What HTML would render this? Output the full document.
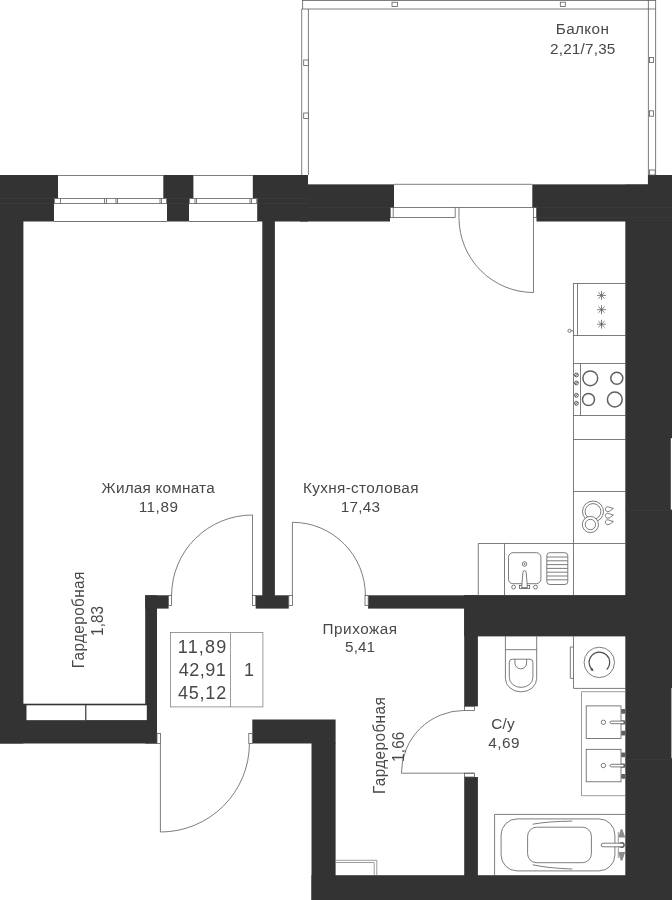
<!DOCTYPE html>
<html lang="ru">
<head>
<meta charset="utf-8">
<title>План квартиры</title>
<style>
html,body{margin:0;padding:0;background:#fff;}
body{width:672px;height:900px;overflow:hidden;}
svg{display:block;}
.w{fill:#333;}
.l{fill:none;stroke:#585858;stroke-width:0.78;}
.lw{fill:#fff;stroke:#585858;stroke-width:0.78;}
.lg{fill:none;stroke:#808080;stroke-width:0.78;}
.la{fill:none;stroke:#4a4a4a;stroke-width:1.1;}
.lk{fill:none;stroke:#444;stroke-width:0.9;}
.lt{fill:none;stroke:#606060;stroke-width:1.5;}
.t{font-family:"Liberation Sans",Arial,sans-serif;fill:#484848;opacity:0.999;}
</style>
</head>
<body>
<svg width="672" height="900" viewBox="0 0 672 900">
<rect width="672" height="900" fill="#fff"/>

<!-- ===== WALLS ===== -->
<g class="w">
<!-- top wall -->
<rect x="0" y="175" width="308" height="46.5"/>
<rect x="300" y="184.2" width="94" height="23.3"/>
<rect x="300" y="207" width="90" height="14.5"/>
<!-- left wall -->
<rect x="0" y="175" width="23.4" height="568.5"/>
<!-- bottom-left wall -->
<rect x="0" y="720" width="157" height="23.5"/>
<rect x="23" y="703.7" width="124" height="17"/>
<!-- room / hall wall -->
<rect x="145.2" y="595.3" width="11.8" height="148.2"/>
<rect x="145.2" y="595.3" width="23.4" height="13.3"/>
<!-- inner wall -->
<rect x="262.3" y="221" width="12.6" height="375"/>
<rect x="255.7" y="595.3" width="33.1" height="13.3"/>
<!-- horizontal wall kitchen / bath -->
<rect x="368.1" y="595.3" width="304" height="13.3"/>
<rect x="464.2" y="595.3" width="208" height="41.1"/>
<!-- bathroom left wall -->
<rect x="464.2" y="595.3" width="13.7" height="111.1"/>
<rect x="464.2" y="777" width="13.7" height="123"/>
<!-- right wall -->
<rect x="625.3" y="184.2" width="46.7" height="716"/>
<rect x="647.7" y="175" width="24.3" height="10"/>
<rect x="532.3" y="184.2" width="140" height="23.5"/>
<rect x="536.5" y="207" width="136" height="14.5"/>
<!-- bottom wall -->
<rect x="311.5" y="875.2" width="360.5" height="24.8"/>
<!-- entry wall -->
<rect x="252.3" y="719.5" width="83.3" height="24"/>
<rect x="311.5" y="743" width="24.1" height="157"/>
</g>

<!-- faint seams inside walls -->
<g stroke="#393939" stroke-width="1" fill="none">
<path d="M0 198.5H54M167 198.5H189M257 198.5H308M0 203.5H54M167 203.5H189M257 203.5H308"/>
<path d="M308 207.5H390M536.5 207.5H672M536.5 217.5H672"/>
<path d="M625.5 510.5H672M625.5 759.5H672"/>
</g>

<!-- ===== WINDOWS ===== -->
<g>
<!-- window 1 -->
<rect x="58" y="175" width="105.3" height="24" fill="#fff"/>
<rect x="54" y="198.3" width="113" height="23.3" fill="#fff"/>
<path class="l" d="M58 175.5H163.3M54 198.5H167M54 203.5H167M54 221.5H167"/>
<path class="l" d="M54.5 198.5V203.5M60.5 198.5V203.5M104.5 198.5V203.5M106.5 198.5V203.5M116 198.5V203.5M117.5 198.5V203.5M160 198.5V203.5M161.5 198.5V203.5M166.5 198.5V203.5"/>
<!-- window 2 -->
<rect x="193.4" y="175" width="59.4" height="24" fill="#fff"/>
<rect x="189" y="198.3" width="68.2" height="23.3" fill="#fff"/>
<path class="l" d="M193.4 175.5H252.8M189 198.5H257.2M189 203.5H257.2M189 221.5H257.2"/>
<path class="l" d="M189.5 198.5V203.5M195 198.5V203.5M196.5 198.5V203.5M250 198.5V203.5M251.5 198.5V203.5M256.7 198.5V203.5"/>
</g>

<!-- ===== BALCONY ===== -->
<g>
<rect x="301.5" y="0" width="7" height="175" fill="#fff"/>
<rect x="308" y="175" width="339.7" height="9.2" fill="#fff"/>
<path class="l" d="M302.5 0.5H655.6M301.7 9H655.6M302.6 0V9"/>
<path class="l" d="M301.7 9V175M308.4 9V175M648.4 0V175M655.6 0V175"/>

<rect class="lw" x="303.7" y="60" width="4.6" height="5.5"/>
<rect class="lw" x="303.7" y="113" width="4.6" height="5.5"/>
<rect class="lw" x="392" y="2.2" width="5.5" height="4.4"/>
<rect class="lw" x="560.3" y="2.2" width="5" height="4.4"/>
<rect class="lw" x="649.6" y="57.5" width="4" height="5"/>
<rect class="lw" x="649.6" y="110.8" width="4" height="5.4"/>
<rect class="lw" x="649.6" y="170" width="5.6" height="5"/>
</g>

<!-- ===== BALCONY DOOR ===== -->
<g>
<path class="l" d="M394 184.3H532.3M390 207.5H536.5M390 217.5H455.2"/>
<path class="l" d="M390.5 207.5V217.5M393.2 207.5V217.5M455.2 207.5V217.5M459 207.5V217.5"/>
<path class="l" d="M533.5 207.5V292.5M536.5 207.5V217.5H533.5"/>
<path class="l" d="M533.5 292.5A74.5 74.7 0 0 1 459 217.8"/>
</g>

<!-- ===== INTERIOR DOORS ===== -->
<g>
<!-- living room door -->
<rect class="lw" x="168.6" y="595.6" width="3" height="9.8"/>
<rect class="lw" x="252.5" y="595.6" width="3.2" height="9.8"/>
<path class="l" d="M252.5 595.5V515"/>
<path class="l" d="M252.5 515A80.9 80.5 0 0 0 171.6 595.5"/>
<!-- kitchen door -->
<rect class="lw" x="288.8" y="595.6" width="3.6" height="9.8"/>
<rect class="lw" x="365" y="595.6" width="3.2" height="9.8"/>
<path class="l" d="M292.4 595.5V522.3"/>
<path class="l" d="M292.4 522.3A73 73.2 0 0 1 365.4 595.5"/>
<!-- entry door -->
<rect class="lw" x="157" y="733.5" width="3.4" height="10"/>
<rect class="lw" x="248.8" y="733.5" width="3.5" height="10"/>
<path class="l" d="M160.4 743.5V832"/>
<path class="l" d="M160.4 832A89 88.5 0 0 0 249.4 743.5"/>
<!-- bathroom door -->
<rect class="lw" x="464.4" y="706.4" width="10" height="4"/>
<rect class="lw" x="464.4" y="773.2" width="10" height="3.8"/>
<path class="l" d="M474.4 773.2H401.4"/>
<path class="l" d="M401.4 773.2A63 62.8 0 0 1 464.4 710.4"/>
</g>

<!-- ===== KITCHEN ===== -->
<g>
<!-- counter outline -->
<path class="l" d="M573.5 283V543.5M478.3 595.3V543.5H625.5M504.5 543.5V595.3M573.5 543.5V595.3"/>
<path class="l" d="M573.5 283.5H625.5M573.5 335.5H625.5M577.5 283.5V335.5M573.5 363.5H625.5M573.5 415.5H625.5M580.5 363.5V415.5M573.5 439.5H625.5M573.5 491.5H625.5"/>
<!-- fridge -->
<path class="l" transform="translate(0 0.4)" d="M597.10 295.00L605.90 295.00M598.39 291.89L604.61 298.11M601.50 290.60L601.50 299.40M604.61 291.89L598.39 298.11M597.10 309.30L605.90 309.30M598.39 306.19L604.61 312.41M601.50 304.90L601.50 313.70M604.61 306.19L598.39 312.41M597.10 323.80L605.90 323.80M598.39 320.69L604.61 326.91M601.50 319.40L601.50 328.20M604.61 320.69L598.39 326.91"/>
<circle class="l" cx="569.5" cy="330.8" r="1.6"/>
<path class="l" d="M571.1 330.8H573.5"/>
<!-- hob -->
<circle class="lt" cx="590.3" cy="378.3" r="7.4"/>
<circle class="lt" cx="616.8" cy="378.3" r="6"/>
<circle class="lt" cx="588.5" cy="399.5" r="6"/>
<circle class="lt" cx="614.8" cy="399.5" r="7.4"/>
<circle class="lk" cx="576.4" cy="375" r="1.9"/><path class="lk" d="M575.0 376.2L577.8 373.8"/>
<circle class="lk" cx="576.4" cy="383" r="1.9"/><path class="lk" d="M575.0 384.2L577.8 381.8"/>
<circle class="lk" cx="576.4" cy="395.3" r="1.9"/><path class="lk" d="M575.0 396.5L577.8 394.1"/>
<circle class="lk" cx="576.4" cy="403.3" r="1.9"/><path class="lk" d="M575.0 404.5L577.8 402.1"/>
<!-- dishwasher -->
<circle class="l" cx="593" cy="511.5" r="10.5"/>
<circle class="l" cx="593" cy="511.5" r="7.9"/>
<circle class="lw" cx="590.4" cy="524.5" r="8.1"/>
<circle class="l" cx="590.4" cy="524.5" r="5.2"/>
<path class="l" d="M613.4 508.4C610.8 508.0 608.8 506.8 607.6 506.8C606.0 506.8 605.4 508.0 605.4 509.2C605.4 510.6 606.4 511.7 607.9 511.7C609.5 511.7 611.6 509.8 613.4 508.4Z"/>
<path class="l" d="M613.4 514.9C610.8 514.5 608.8 513.3 607.6 513.3C606.0 513.3 605.4 514.5 605.4 515.7C605.4 517.1 606.4 518.2 607.9 518.2C609.5 518.2 611.6 516.3 613.4 514.9Z"/>
<path class="l" d="M613.4 521.4C610.8 521.0 608.8 519.8 607.6 519.8C606.0 519.8 605.4 521.0 605.4 522.2C605.4 523.6 606.4 524.7 607.9 524.7C609.5 524.7 611.6 522.8 613.4 521.4Z"/>
<!-- sink -->
<rect class="l" x="508.5" y="552.7" width="32.4" height="31" rx="4.5"/>
<circle class="l" cx="524.5" cy="564" r="2.3"/>
<circle cx="524.5" cy="564" r="0.8" fill="#4a4a4a"/>
<circle class="l" cx="513.6" cy="587.1" r="1.9"/>
<circle class="l" cx="535.5" cy="587.1" r="1.9"/>
<rect class="lw" x="519.5" y="585.6" width="10.2" height="3"/>
<path class="lw" d="M521.7 587.6L522.9 572.4Q523 570.6 524.55 570.6Q526.1 570.6 526.2 572.4L527.4 587.6Z"/>
<rect class="l" x="546.8" y="552.7" width="21" height="31.8" rx="3"/>
<path class="l" d="M547 557H567.6M547 560.8H567.6M547 564.6H567.6M547 568.4H567.6M547 572.2H567.6M547 576H567.6M547 579.8H567.6"/>
</g>

<!-- ===== BATHROOM ===== -->
<g>
<!-- toilet -->
<path class="l" d="M505.4 636.4V649.7H536.7V636.4"/>
<path class="l" d="M505.4 649.7V678.4A15.65 13.5 0 0 0 536.7 678.4V649.7"/>
<path class="l" d="M512.3 659.2H529.9Q532.9 659.2 532.9 662.2V677.5A11.8 9.9 0 0 1 509.3 677.5V662.2Q509.3 659.2 512.3 659.2Z"/>
<path class="l" d="M514.9 659.2V663A5.85 5.85 0 0 0 526.6 663V659.2"/>
<!-- washing machine -->
<path class="l" d="M573.5 636.4V688.4H625.5"/>
<path class="l" d="M573.5 647H570.3V678.4H573.5"/>
<circle class="l" cx="599.3" cy="662.4" r="15.2"/>
<path class="la" d="M606.68 669.68A10.3 10.3 0 1 0 592.51 670.05"/>
<path d="M593.70 671.13L590.17 669.96L592.17 667.74Z" fill="#4a4a4a"/>
<!-- sink counter -->
<path class="lg" d="M625.5 691.7H581.5V795.7H625.5"/>
<rect class="l" x="586.2" y="705.9" width="34.8" height="32.5"/>
<rect class="l" x="586.2" y="749.3" width="34.8" height="32.5"/>
<circle class="l" cx="603.4" cy="722.3" r="2.2"/>
<circle class="l" cx="603.4" cy="765.5" r="2.2"/>
<g fill="#606060">
<rect x="621.2" y="709" width="4.3" height="4.7" rx="1"/><rect x="621.2" y="730.7" width="4.3" height="4.7" rx="1"/>
<rect x="621.2" y="752.5" width="4.3" height="4.7" rx="1"/><rect x="621.2" y="774" width="4.3" height="4.7" rx="1"/>
<rect x="620.5" y="720.3" width="5" height="4.2" rx="1.5"/><rect x="620.5" y="763.5" width="5" height="4.2" rx="1.5"/>
</g>
<rect class="lw" x="610" y="721.1" width="14" height="2.6" rx="1.3"/>
<rect class="lw" x="610" y="764.3" width="14" height="2.6" rx="1.3"/>
<!-- bathtub -->
<path class="l" d="M494.6 875.2V814.4H625.5"/>
<rect class="l" x="501.1" y="818.9" width="113.8" height="52" rx="16" ry="16"/>
<rect class="l" x="527.6" y="827.2" width="63.8" height="35.5" rx="9" ry="9"/>
<path class="l" d="M532.7 824.2Q548 821.4 572.3 821.1M532.7 864.8Q548 868.2 572.3 869"/>
<path class="lg" d="M618.3 832V858"/>
<g fill="#8c8c8c">
<path d="M618.3 837.6L620.6 829.3L622.3 829.3L625.3 837.6Z"/>
<path d="M618.3 852L620.6 860.6L622.3 860.6L625.3 852Z"/>
</g>
<circle cx="621.8" cy="845" r="3" fill="#5a5a5a"/>
<rect class="lw" x="601.2" y="843.2" width="22.6" height="3.6" rx="1.8"/>
</g>

<!-- ===== WARDROBES ===== -->
<g>
<rect x="26.5" y="705.3" width="58.7" height="14.8" fill="#fff"/>
<rect x="86.3" y="705.3" width="60.5" height="14.8" fill="#fff"/>
<path class="l" d="M26.5 720.6H85.7V705.3"/>
<path class="lg" d="M335.6 860.3H376.8V875.2M335.6 862.5H374.2V875.2"/>
</g>

<!-- right edge slivers -->
<rect x="670.8" y="438.2" width="1.2" height="71.4" fill="#fff"/>
<rect x="671" y="688" width="1" height="70.2" fill="#a8a8a8"/>

<!-- ===== LABEL BOX ===== -->
<g>
<rect class="lg" x="170.5" y="632.5" width="92.4" height="74.4"/>
<path class="lg" d="M230.5 632.5V707"/>
</g>


<!-- ===== TEXT ===== -->
<g class="t">
<text x="101.59" y="493.00" style="font-size:15.3px;letter-spacing:0.216px">Жилая комната</text>
<text x="138.68" y="511.70" style="font-size:15.3px;letter-spacing:0.527px">11,89</text>
<text x="303.08" y="493.00" style="font-size:15.3px;letter-spacing:0.332px">Кухня-столовая</text>
<text x="340.68" y="511.70" style="font-size:15.3px;letter-spacing:0.247px">17,43</text>
<text x="322.58" y="633.80" style="font-size:15.3px;letter-spacing:0.522px">Прихожая</text>
<text x="345.09" y="652.40" style="font-size:15.3px;letter-spacing:0.047px">5,41</text>
<text x="491.24" y="728.70" style="font-size:15.3px;letter-spacing:0.208px">С/у</text>
<text x="488.29" y="748.00" style="font-size:15.3px;letter-spacing:0.479px">4,69</text>
<text x="555.78" y="34.30" style="font-size:15.3px;letter-spacing:0.358px">Балкон</text>
<text x="549.99" y="53.80" style="font-size:15.3px;letter-spacing:0.197px">2,21/7,35</text>
<text x="177.86" y="652.70" style="font-size:18.0px;letter-spacing:1.150px">11,89</text>
<text x="178.74" y="675.90" style="font-size:18.0px;letter-spacing:0.465px">42,91</text>
<text x="177.94" y="698.75" style="font-size:18.0px;letter-spacing:0.790px">45,12</text>
<text x="244.06" y="675.90" style="font-size:18.0px;letter-spacing:0.000px">1</text>
<text transform="translate(84.20 668.32) rotate(-90) scale(1 1.05)" style="font-size:15.3px;letter-spacing:0.413px">Гардеробная</text>
<text transform="translate(102.70 635.92) rotate(-90) scale(1 1.05)" style="font-size:15.3px;letter-spacing:0.051px">1,83</text>
<text transform="translate(384.90 794.12) rotate(-90) scale(1 1.05)" style="font-size:15.3px;letter-spacing:0.433px">Гардеробная</text>
<text transform="translate(403.70 761.92) rotate(-90) scale(1 1.05)" style="font-size:15.3px;letter-spacing:0.151px">1,66</text>
</g>
</svg>
</body>
</html>
